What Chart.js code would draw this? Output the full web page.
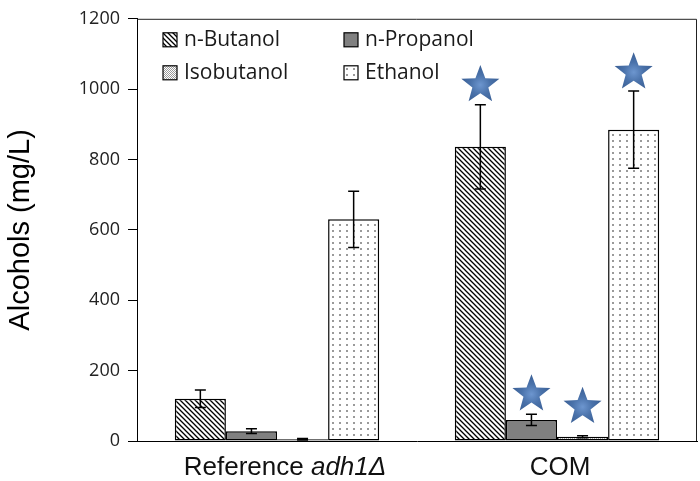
<!DOCTYPE html>
<html>
<head>
<meta charset="utf-8">
<script src="https://cdn.jsdelivr.net/npm/chart.js@4.4.1/dist/chart.umd.min.js"></script>
<style>
  body { margin: 0; background: #fff; }
  canvas { display: block; }
</style>
</head>
<body>
<canvas id="alcoholChart" width="700" height="481"></canvas>
<script>
// ---------------- DATA ----------------
const groups = ["Reference adh1Δ", "COM"];
const seriesNames = ["n-Butanol", "n-Propanol", "Isobutanol", "Ethanol"];

const butanol = [120, 836];
const butanolErr = [25, 120];
const propanol = [28, 60];
const propanolErr = [7, 16];
const isobutanol = [5, 12];
const isobutanolErr = [2, 3];
const ethanol = [630, 885];
const ethanolErr = [80, 110];

// significance stars (value where star sits, null = none)
const butanolStar = [null, 1012];
const propanolStar = [null, 133];
const isobutanolStar = [null, 97];
const ethanolStar = [null, 1048];

const yTicks = [0, 200, 400, 600, 800, 1000, 1200];

// ---------------- PATTERNS ----------------
function makeTile(w, h, draw) {
    const c = document.createElement("canvas");
    c.width = w;
    c.height = h;
    const g = c.getContext("2d");
    g.fillStyle = "#fff";
    g.fillRect(0, 0, w, h);
    draw(g, w, h);
    return c.getContext("2d").createPattern(c, "repeat");
}

const hatchFill = makeTile(5, 5, (g, s) => {
    g.strokeStyle = "#000";
    g.lineWidth = 1.3;
    g.beginPath();
    g.moveTo(-1, -1); g.lineTo(s + 1, s + 1);
    g.moveTo(-1, s - 1); g.lineTo(1, s + 1);
    g.moveTo(s - 1, -1); g.lineTo(s + 1, 1);
    g.stroke();
});
const greyFill = "#808080";
const fineDotFill = makeTile(2, 2, (g) => {
    g.fillStyle = "#9a9a9a";
    g.fillRect(0, 0, 1, 1);
    g.fillRect(1, 1, 1, 1);
});
const sparseDotFill = makeTile(7, 6, (g) => {
    g.fillStyle = "#9a9a9a";
    g.fillRect(3, 2, 2, 2);
});

const fills = [hatchFill, greyFill, fineDotFill, sparseDotFill];
const values = [butanol, propanol, isobutanol, ethanol];
const errors = [butanolErr, propanolErr, isobutanolErr, ethanolErr];
const stars = [butanolStar, propanolStar, isobutanolStar, ethanolStar];

// ---------------- PLUGINS ----------------
function drawStar(ctx, cx, cy, r) {
    const inner = r * 0.42;
    ctx.beginPath();
    for (let i = 0; i < 10; i++) {
        const rad = i % 2 === 0 ? r : inner;
        const a = -Math.PI / 2 + i * Math.PI / 5;
        const px = cx + rad * Math.cos(a);
        const py = cy + rad * Math.sin(a);
        if (i === 0) ctx.moveTo(px, py); else ctx.lineTo(px, py);
    }
    ctx.closePath();
    const grad = ctx.createRadialGradient(cx, cy, 0, cx, cy, r);
    grad.addColorStop(0, "#6d96cf");
    grad.addColorStop(0.5, "#4a72aa");
    grad.addColorStop(1, "#3a5f95");
    ctx.fillStyle = grad;
    ctx.fill();
}

const extrasPlugin = {
    id: "extras",
    afterDatasetsDraw(chart) {
        const ctx = chart.ctx;
        const y = chart.scales.y;
        ctx.save();
        // error bars
        ctx.strokeStyle = "#000";
        ctx.lineWidth = 1.5;
        chart.data.datasets.forEach((ds, i) => {
            const meta = chart.getDatasetMeta(i);
            meta.data.forEach((bar, j) => {
                const v = values[i][j];
                const e = errors[i][j];
                const top = y.getPixelForValue(v + e);
                const bot = y.getPixelForValue(v - e);
                ctx.beginPath();
                ctx.moveTo(bar.x, top); ctx.lineTo(bar.x, bot);
                ctx.moveTo(bar.x - 5.5, top); ctx.lineTo(bar.x + 5.5, top);
                ctx.moveTo(bar.x - 5.5, bot); ctx.lineTo(bar.x + 5.5, bot);
                ctx.stroke();
            });
        });
        // stars
        chart.data.datasets.forEach((ds, i) => {
            const meta = chart.getDatasetMeta(i);
            meta.data.forEach((bar, j) => {
                const s = stars[i][j];
                if (s === null) return;
                drawStar(ctx, bar.x, y.getPixelForValue(s), 20);
            });
        });
        ctx.restore();
    },
    afterDraw(chart) {
        const ctx = chart.ctx;
        const area = chart.chartArea;
        const x = chart.scales.x;
        ctx.save();
        // frame top / right
        ctx.strokeStyle = "#222";
        ctx.lineWidth = 1;
        ctx.beginPath();
        ctx.moveTo(area.left, area.top + 0.5);
        ctx.lineTo(area.right - 0.5, area.top + 0.5);
        ctx.lineTo(area.right - 0.5, area.bottom);
        ctx.stroke();

        // legend, two columns
        ctx.font = "21px 'Open Sans'";
        ctx.textBaseline = "middle";
        ctx.textAlign = "left";
        seriesNames.forEach((name, i) => {
            const col = i % 2;
            const row = Math.floor(i / 2);
            const bx = area.left + 26 + col * 181;
            const by = area.top + 21 + row * 33;
            ctx.fillStyle = fills[i];
            ctx.fillRect(bx, by - 7, 14, 14);
            ctx.strokeStyle = "#000";
            ctx.lineWidth = 1.2;
            ctx.strokeRect(bx, by - 7, 14, 14);
            ctx.fillStyle = "#1a1a1a";
            ctx.fillText(name, bx + 21, by);
        });

        // category labels, species name in italics
        const ly = area.bottom + 27;
        ctx.fillStyle = "#111";
        ctx.textBaseline = "middle";
        groups.forEach((label, j) => {
            const cx = x.getPixelForValue(j);
            const idx = label.indexOf(" ");
            if (idx > 0) {
                const plain = label.slice(0, idx + 1);
                const ital = label.slice(idx + 1);
                ctx.font = "26px 'Liberation Sans'";
                const w1 = ctx.measureText(plain).width;
                ctx.font = "italic 26px 'Liberation Sans'";
                const w2 = ctx.measureText(ital).width;
                const start = cx + 8 - (w1 + w2) / 2;
                ctx.textAlign = "left";
                ctx.font = "26px 'Liberation Sans'";
                ctx.fillText(plain, start, ly);
                ctx.font = "italic 26px 'Liberation Sans'";
                ctx.fillText(ital, start + w1, ly);
            } else {
                ctx.textAlign = "center";
                ctx.font = "26px 'Liberation Sans'";
                ctx.fillText(label, cx + 3, ly);
            }
        });
        ctx.restore();
    }
};

// ---------------- CHART ----------------
const ctx = document.getElementById("alcoholChart");
new Chart(ctx, {
    type: "bar",
    data: {
        labels: groups,
        datasets: seriesNames.map((name, i) => ({
            label: name,
            data: values[i],
            backgroundColor: fills[i],
            borderColor: "#000",
            borderWidth: 1.5,
            borderSkipped: false,
            barPercentage: 1.0,
            categoryPercentage: 0.73,
        }))
    },
    options: {
        responsive: false,
        animation: false,
        layout: { padding: { top: 8, right: 3, left: 0, bottom: 0 } },
        plugins: {
            legend: { display: false },
            tooltip: { enabled: false }
        },
        scales: {
            x: {
                grid: { display: false },
                border: { display: true, color: "#000", width: 1 },
                ticks: { display: false },
                afterFit(scale) { scale.height = 40; }
            },
            y: {
                min: 0,
                max: 1200,
                afterBuildTicks(scale) {
                    scale.ticks = yTicks.map(v => ({ value: v }));
                },
                grid: {
                    drawOnChartArea: false,
                    drawTicks: true,
                    tickLength: 9,
                    color: "#000"
                },
                border: { display: true, color: "#000", width: 1 },
                ticks: {
                    padding: 8,
                    color: "#222",
                    font: { family: "'Open Sans'", size: 18 },
                    callback: (v) => String(v)
                },
                title: {
                    display: true,
                    text: "Alcohols (mg/L)",
                    color: "#000",
                    font: { family: "'Liberation Sans'", size: 29 },
                    padding: { top: 4, bottom: 0 }
                },
                afterFit(scale) { scale.width = 137; }
            }
        }
    },
    plugins: [extrasPlugin]
});
</script>
</body>
</html>
